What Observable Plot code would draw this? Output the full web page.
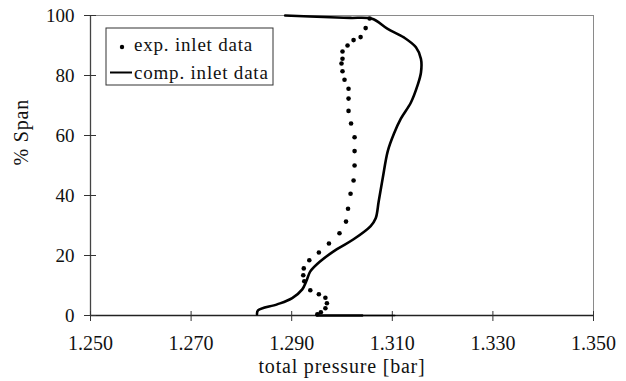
<!DOCTYPE html>
<html>
<head>
<meta charset="utf-8">
<script src="https://cdn.jsdelivr.net/npm/d3@7"></script>
<script src="https://cdn.jsdelivr.net/npm/@observablehq/plot@0.6"></script>
<style>
  html, body { margin: 0; padding: 0; background: #fff; }
  svg { display: block; }
  .wide { letter-spacing: 0.8px; }
</style>
</head>
<body>
<div id="chart"></div>
<script>
// ---- data ----
const xTicks = [1.25, 1.27, 1.29, 1.31, 1.33, 1.35];
const yTicks = [0, 20, 40, 60, 80, 100];
const xLabel = "total pressure [bar]";
const yLabel = "% Span";
const seriesNames = ["exp. inlet data", "comp. inlet data"];

// experimental inlet data (dots): [pressure, span]
const expPressure = [1.3055, 1.3047, 1.3037, 1.3023, 1.3011, 1.3001, 1.3001, 1.2999, 1.3001, 1.3005,
                     1.3013, 1.3013, 1.3013, 1.3018, 1.3025, 1.3025, 1.3025, 1.3023, 1.3017, 1.3012,
                     1.3008, 1.2995, 1.2974, 1.2954, 1.2935, 1.2924, 1.2923, 1.2925, 1.2937, 1.2954,
                     1.2967, 1.2970, 1.2967, 1.2958, 1.2951];
const expSpan     = [99.0, 95.8, 92.8, 91.8, 90.0, 88.0, 85.6, 84.0, 81.4, 78.6,
                     75.6, 72.3, 68.2, 64.0, 59.4, 54.8, 50.0, 45.0, 40.6, 35.6,
                     31.3, 27.4, 24.0, 21.0, 18.4, 15.7, 13.4, 11.4, 8.4, 7.1,
                     5.9, 4.1, 2.4, 1.1, 0.4];

// computed inlet data (solid line)
const compPressure = [1.2887, 1.2977, 1.3017, 1.3060, 1.3090, 1.3123, 1.3147, 1.3157, 1.3157, 1.3150,
                      1.3137, 1.3117, 1.3103, 1.3091, 1.3081, 1.3073, 1.3067, 1.3057, 1.3023, 1.2990,
                      1.2957, 1.2937, 1.2929, 1.2921, 1.2901, 1.2871, 1.2833, 1.2831];
const compSpan     = [100, 99.4, 99.2, 98.9, 95.6, 92.7, 89.4, 85.5, 81.0, 76.6,
                      71.0, 65.6, 60.5, 54.8, 45.8, 38.1, 32.4, 29.8, 25.4, 22.1,
                      18.1, 14.7, 11.4, 8.7, 5.8, 3.7, 1.7, 0.4];

// heavy segment along the 0 % span line
const wallPressure = [1.2950, 1.3040];
const wallPressure2 = [1.3040, 1.3105];

// ---- build tables ----
const exp = expPressure.map((p, i) => ({p, s: expSpan[i]}));
const comp = compPressure.map((p, i) => ({p, s: compSpan[i]}));
const wall = wallPressure.map(p => ({p, s: 0}));
const wall2 = wallPressure2.map(p => ({p, s: 0}));

const FONT = "'Liberation Serif', 'Times New Roman', serif";
const blank = () => "";

const chart = Plot.plot({
  width: 626,
  height: 381,
  marginLeft: 90,
  marginRight: 33,
  marginTop: 15,
  marginBottom: 66,
  style: {fontFamily: FONT, fontSize: "19px", color: "#111", background: "#fff"},
  x: {domain: [1.25, 1.35]},
  y: {domain: [0, 100]},
  marks: [
    Plot.frame({stroke: "#8a8a8a", strokeWidth: 1}),
    Plot.ruleX([1.25], {stroke: "#444", strokeWidth: 1.3}),
    Plot.ruleY([0], {stroke: "#222", strokeWidth: 1.3}),
    Plot.axisX({ticks: xTicks, tickFormat: d3.format(".3f"), tickSize: 6, tickPadding: 14, fontSize: 20, label: null, stroke: "#333"}),
    Plot.axisX({ticks: xTicks, tickFormat: blank, tickSize: -4, label: null, stroke: "#333"}),
    Plot.axisY({ticks: yTicks, tickFormat: d => String(d), tickSize: 6, tickPadding: 10, fontSize: 19, label: null, stroke: "#333"}),
    Plot.axisY({ticks: yTicks, tickFormat: blank, tickSize: -6, label: null, stroke: "#333"}),
    Plot.text([xLabel], {frameAnchor: "bottom", dy: 57, fontSize: 20, fill: "#111", className: "wide"}),
    Plot.text([yLabel], {frameAnchor: "left", dx: -69, rotate: -90, fontSize: 20, fill: "#111", className: "wide"}),
    Plot.line(comp, {x: "p", y: "s", stroke: "#000", strokeWidth: 2.6, curve: "catmull-rom"}),
    Plot.line(wall, {x: "p", y: "s", stroke: "#000", strokeWidth: 2.6}),
    Plot.line(wall2, {x: "p", y: "s", stroke: "#000", strokeWidth: 1.6}),
    Plot.dot(exp, {x: "p", y: "s", r: 2.3, fill: "#000", stroke: "none"})
  ]
});

document.getElementById("chart").appendChild(chart);

// legend box inside the plot area (top-left)
const svg = d3.select(chart);
const lg = svg.append("g").attr("font-family", FONT).attr("font-size", 19)
  .attr("fill", "#111").attr("text-anchor", "start");
lg.append("rect").attr("x", 106).attr("y", 28).attr("width", 167).attr("height", 57)
  .attr("fill", "#fff").attr("stroke", "#333").attr("stroke-width", 1);
lg.append("circle").attr("cx", 122).attr("cy", 47).attr("r", 2.2).attr("fill", "#000");
lg.append("text").attr("x", 134).attr("y", 51).attr("letter-spacing", "0.8px").text(seriesNames[0]);
lg.append("line").attr("x1", 110).attr("x2", 132).attr("y1", 72.5).attr("y2", 72.5)
  .attr("stroke", "#000").attr("stroke-width", 2);
lg.append("text").attr("x", 134).attr("y", 78.5).attr("letter-spacing", "0.8px").text(seriesNames[1]);
</script>
</body>
</html>
